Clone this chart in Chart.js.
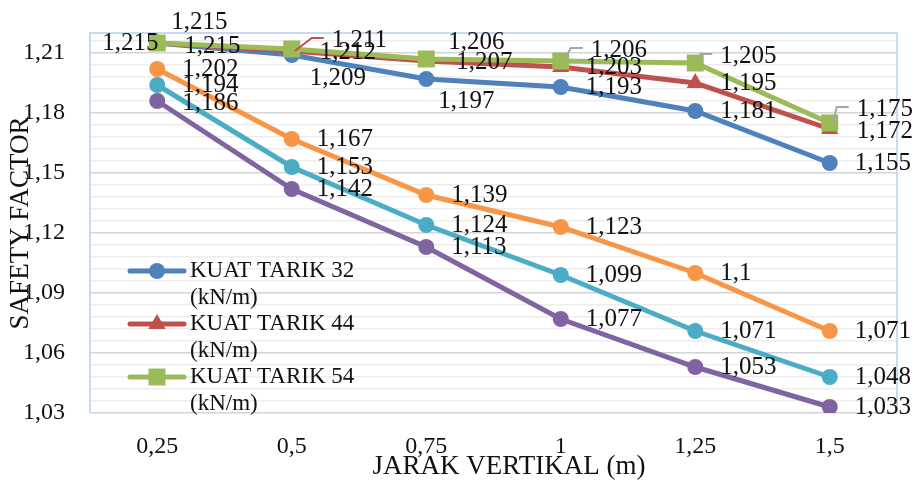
<!DOCTYPE html>
<html>
<head>
<meta charset="utf-8">
<script src="https://cdn.jsdelivr.net/npm/chart.js@4.4.1/dist/chart.umd.min.js"></script>
<style>
  html, body { margin: 0; padding: 0; background: #fff; }
  #wrap { width: 916px; height: 482px; position: relative; }
</style>
</head>
<body>
<div id="wrap"><canvas id="myChart"></canvas></div>
<script>
'use strict';

// data
const categories = ['0,25', '0,5', '0,75', '1', '1,25', '1,5'];
const kuatTarik32 = [1.215, 1.209, 1.197, 1.193, 1.181, 1.155];
const kuatTarik44 = [1.215, 1.211, 1.206, 1.203, 1.195, 1.172];
const kuatTarik54 = [1.215, 1.212, 1.207, 1.206, 1.205, 1.175];
const seriesOrange = [1.202, 1.167, 1.139, 1.123, 1.1, 1.071];
const seriesCyan = [1.194, 1.153, 1.124, 1.099, 1.071, 1.048];
const seriesPurple = [1.186, 1.142, 1.113, 1.077, 1.053, 1.033];
const seriesNames = ['KUAT TARIK 32 (kN/m)', 'KUAT TARIK 44 (kN/m)', 'KUAT TARIK 54 (kN/m)', 'Seri 4', 'Seri 5', 'Seri 6'];
const xTitle = 'JARAK VERTIKAL (m)';
const yTitle = 'SAFETY FACTOR';

const yMin = 1.03;
const yMax = 1.22;
const yMajor = 0.03;
const yMinor = 0.006;

const FONT = "'Liberation Serif', 'DejaVu Serif', serif";

const colors = ['#4F81BD', '#C0504D', '#9BBB59', '#F79646', '#4BACC6', '#8064A2'];
const pointStyles = ['circle', 'triangle', 'rect', 'circle', 'circle', 'circle'];
const pointSizes = [8, 10, 12, 8, 8, 8];

// where the data labels sit relative to their point: [dx, dy, leaderLine]
const labelOffsets = {
  '0-0': [-55, 0], '1-0': [27, 3], '2-0': [14, -21],
  '0-1': [18, 23], '1-1': [40, -11, true], '2-1': [28, 3],
  '0-2': [12, 22], '1-2': [22, -19], '2-2': [30, 3],
  '2-3': [30, -11, true],
  '2-4': [25, -7, true],
  '1-5': [27, 2], '2-5': [27, -14, true],
  '5-0': [25, 2]
};

function isMajor(v) {
  const k = (v - yMin) / yMajor;
  return Math.abs(k - Math.round(k)) < 1e-6;
}

function fmt(v) {
  return String(v).replace('.', ',');
}

// plot box (light blue on left / top / right)
const plotBorder = {
  id: 'plotBorder',
  beforeDatasetsDraw(chart) {
    const {ctx, chartArea: a} = chart;
    ctx.save();
    ctx.strokeStyle = '#C9DAF0';
    ctx.lineWidth = 2;
    ctx.beginPath();
    ctx.moveTo(a.left, a.bottom);
    ctx.lineTo(a.left, a.top);
    ctx.lineTo(a.right, a.top);
    ctx.lineTo(a.right, a.bottom);
    ctx.stroke();
    ctx.restore();
  }
};

// value labels next to every point
const valueLabels = {
  id: 'valueLabels',
  afterDatasetsDraw(chart) {
    const ctx = chart.ctx;
    ctx.save();
    ctx.font = '25px ' + FONT;
    ctx.fillStyle = '#111';
    ctx.textAlign = 'left';
    ctx.textBaseline = 'middle';
    chart.data.datasets.forEach((ds, di) => {
      const meta = chart.getDatasetMeta(di);
      meta.data.forEach((pt, i) => {
        const off = labelOffsets[di + '-' + i] || [25, 0];
        const lx = pt.x + off[0];
        const ly = pt.y + off[1];
        if (off[2]) {
          ctx.strokeStyle = di === 1 ? colors[1] : '#A6A6A6';
          ctx.lineWidth = 2;
          ctx.beginPath();
          ctx.moveTo(pt.x + 3, pt.y);
          ctx.lineTo(lx - 20, ly - 2);
          ctx.lineTo(lx - 8, ly - 2);
          ctx.stroke();
        }
        ctx.fillText(fmt(ds.data[i]), lx, ly);
      });
    });
    ctx.restore();
  }
};

function drawMarker(ctx, style, x, y, r) {
  ctx.beginPath();
  if (style === 'triangle') {
    for (let k = 0; k < 3; k++) {
      const ang = k * 2 * Math.PI / 3;
      const px = x + Math.sin(ang) * r;
      const py = y - Math.cos(ang) * r;
      if (k === 0) ctx.moveTo(px, py); else ctx.lineTo(px, py);
    }
    ctx.closePath();
  } else if (style === 'rect') {
    const s = r * Math.SQRT1_2;
    ctx.rect(x - s, y - s, 2 * s, 2 * s);
  } else {
    ctx.arc(x, y, r, 0, Math.PI * 2);
  }
  ctx.fill();
}

// legend in the lower-left of the plot, text wrapped on two lines
const customLegend = {
  id: 'customLegend',
  afterDraw(chart) {
    const ctx = chart.ctx;
    const x0 = 130, x1 = 184, textX = 190;
    const rowY = [271, 324, 377];
    ctx.save();
    ctx.font = '23px ' + FONT;
    ctx.textAlign = 'left';
    ctx.textBaseline = 'middle';
    for (let i = 0; i < 3; i++) {
      const y = rowY[i];
      ctx.strokeStyle = colors[i];
      ctx.fillStyle = colors[i];
      ctx.lineWidth = 5;
      ctx.lineCap = 'round';
      ctx.beginPath();
      ctx.moveTo(x0, y);
      ctx.lineTo(x1, y);
      ctx.stroke();
      drawMarker(ctx, pointStyles[i], (x0 + x1) / 2, y, pointSizes[i]);
      const parts = seriesNames[i].split(' (');
      ctx.fillStyle = '#111';
      ctx.fillText(parts[0], textX, y);
      ctx.fillText('(' + parts[1], textX, y + 27);
    }
    // x axis title, a bit right of the plot centre like the original
    ctx.font = '27px ' + FONT;
    ctx.textAlign = 'center';
    ctx.fillText(xTitle, 509, 467);
    ctx.restore();
  }
};

const allSeries = [kuatTarik32, kuatTarik44, kuatTarik54, seriesOrange, seriesCyan, seriesPurple];

const datasets = allSeries.map((vals, i) => ({
  label: seriesNames[i],
  data: vals,
  borderColor: colors[i],
  backgroundColor: colors[i],
  pointBackgroundColor: colors[i],
  pointBorderColor: colors[i],
  pointBorderWidth: 0,
  pointStyle: pointStyles[i],
  pointRadius: pointSizes[i],
  borderWidth: 5,
  tension: 0,
  order: 6 - i
}));

const ctx = document.getElementById('myChart').getContext('2d');
const chart = new Chart(ctx, {
  type: 'line',
  data: { labels: categories, datasets: datasets },
  plugins: [plotBorder, valueLabels, customLegend],
  options: {
    responsive: true,
    maintainAspectRatio: false,
    animation: false,
    layout: { padding: { top: 33, right: 19, left: 0, bottom: 0 } },
    plugins: {
      legend: { display: false },
      tooltip: { enabled: false }
    },
    scales: {
      x: {
        offset: true,
        grid: { display: false, drawTicks: false },
        border: { display: false },
        ticks: { font: { family: FONT, size: 24 }, color: '#111', padding: 19 },
        afterFit(scale) {
          scale.height = 69;
          scale.paddingLeft = 0;
          scale.paddingRight = 0;
        }
      },
      y: {
        min: yMin,
        max: yMax,
        border: { display: false },
        grid: {
          drawTicks: false,
          color: (c) => (c.tick && isMajor(c.tick.value)) ? '#D4D4D4' : '#EDEDED',
          lineWidth: 1.6
        },
        ticks: {
          autoSkip: false,
          padding: 25,
          font: { family: FONT, size: 24 },
          color: '#111',
          callback: (v) => isMajor(v) ? (Math.round(v * 100) / 100).toFixed(2).replace('.', ',') : ''
        },
        // major every 0.03, minor lines every 0.006, starting at yMin
        afterBuildTicks(scale) {
          const ticks = [];
          for (let k = 0; yMin + k * yMinor <= yMax + 1e-9; k++) {
            ticks.push({ value: Math.round((yMin + k * yMinor) * 1000) / 1000 });
          }
          scale.ticks = ticks;
        },
        title: {
          display: true,
          text: yTitle,
          font: { family: FONT, size: 27 },
          color: '#111',
          padding: { top: 5, bottom: 0 }
        },
        afterFit(scale) {
          scale.width = 90;
          scale.paddingTop = 0;
          scale.paddingBottom = 0;
        }
      }
    }
  }
});
</script>
</body>
</html>
